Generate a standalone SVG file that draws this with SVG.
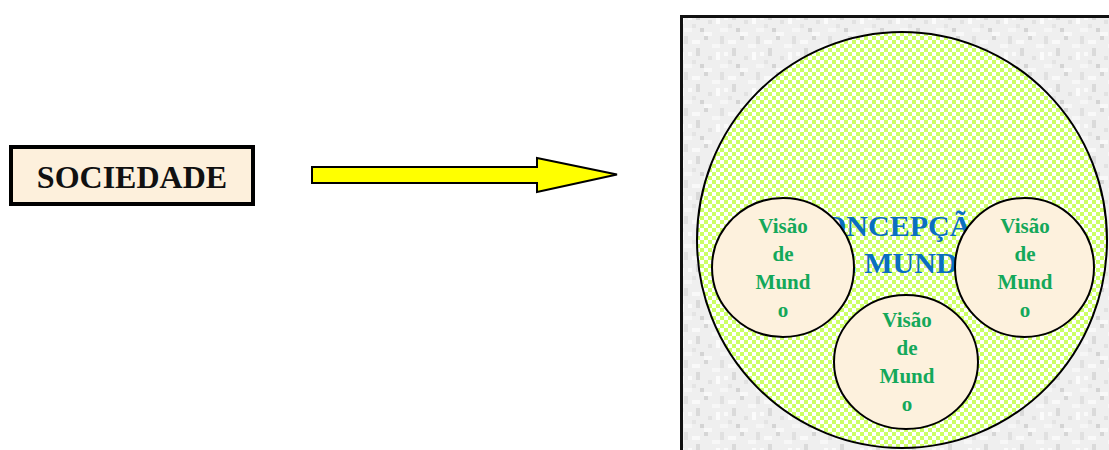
<svg xmlns="http://www.w3.org/2000/svg" width="1109" height="450" viewBox="0 0 1109 450">
<defs>
<pattern id="checker" width="8" height="8" patternUnits="userSpaceOnUse">
<rect width="8" height="8" fill="#CCFF66"/>
<rect x="0" y="0" width="4" height="4" fill="#FFFFFF"/>
<rect x="4" y="4" width="4" height="4" fill="#FFFFFF"/>
</pattern>
<pattern id="noise" width="36" height="36" patternUnits="userSpaceOnUse">
<rect width="36" height="36" fill="#EFEFEF"/>
<rect x="0" y="0" width="4" height="8" fill="#E0E0E0"/>
<rect x="8" y="4" width="8" height="4" fill="#F9F9F9"/>
<rect x="20" y="0" width="4" height="4" fill="#D6D6D6"/>
<rect x="28" y="8" width="8" height="4" fill="#F7F7F7"/>
<rect x="4" y="16" width="4" height="4" fill="#FAFAFA"/>
<rect x="12" y="12" width="4" height="8" fill="#DADADA"/>
<rect x="24" y="20" width="4" height="4" fill="#E2E2E2"/>
<rect x="32" y="16" width="4" height="8" fill="#FBFBFB"/>
<rect x="0" y="28" width="8" height="4" fill="#F6F6F6"/>
<rect x="16" y="28" width="4" height="4" fill="#D4D4D4"/>
<rect x="20" y="32" width="8" height="4" fill="#F8F8F8"/>
<rect x="8" y="24" width="4" height="4" fill="#E4E4E4"/>
</pattern>
<style>
.vis{font-family:"Liberation Serif","Times New Roman",serif;font-weight:bold;font-size:21px;fill:#14A85A;text-anchor:middle}
.small{fill:#FDF1DD;stroke:#000;stroke-width:2}
.blue{font-family:"Liberation Serif","Times New Roman",serif;font-weight:bold;font-size:30px;fill:#0A6FC0;text-anchor:middle}
</style>
</defs>
<rect width="1109" height="450" fill="#FFFFFF"/>
<g id="sociedade">
<rect x="11" y="147" width="242" height="57" fill="#FDF0DC" stroke="#000" stroke-width="4"/>
<text x="132" y="188" font-family="Liberation Serif, Times New Roman, serif" font-weight="bold" font-size="32" text-anchor="middle" fill="#111">SOCIEDADE</text>
</g>
<g id="connectors">
<polygon points="312,167 537,167 537,158 617,174.5 537,192 537,183 312,183" fill="#FFFF00" stroke="#000" stroke-width="2" stroke-linejoin="miter"/>
</g>
<g id="panel">
<rect x="681.5" y="16.5" width="440" height="450" fill="url(#noise)" stroke="#111" stroke-width="3"/>
</g>
<g id="concepcao">
<ellipse cx="902" cy="240" rx="205" ry="208" fill="url(#checker)" stroke="#000" stroke-width="2"/>
<text class="blue" x="898" y="236">CONCEPÇÃO</text>
<text class="blue" x="898" y="273">DE MUNDO</text>
</g>
<g id="visao-esquerda">
<ellipse class="small" cx="783" cy="267.5" rx="71" ry="69.5"/>
<text class="vis" x="783" y="233">Visão</text>
<text class="vis" x="783" y="261">de</text>
<text class="vis" x="783" y="289">Mund</text>
<text class="vis" x="783" y="317">o</text>
</g>
<g id="visao-direita">
<ellipse class="small" cx="1024.5" cy="267.5" rx="69.5" ry="69.5"/>
<text class="vis" x="1025" y="233">Visão</text>
<text class="vis" x="1025" y="261">de</text>
<text class="vis" x="1025" y="289">Mund</text>
<text class="vis" x="1025" y="317">o</text>
</g>
<g id="visao-baixo">
<ellipse class="small" cx="906" cy="362" rx="72" ry="67"/>
<text class="vis" x="907" y="327">Visão</text>
<text class="vis" x="907" y="355">de</text>
<text class="vis" x="907" y="383">Mund</text>
<text class="vis" x="907" y="411">o</text>
</g>
</svg>
